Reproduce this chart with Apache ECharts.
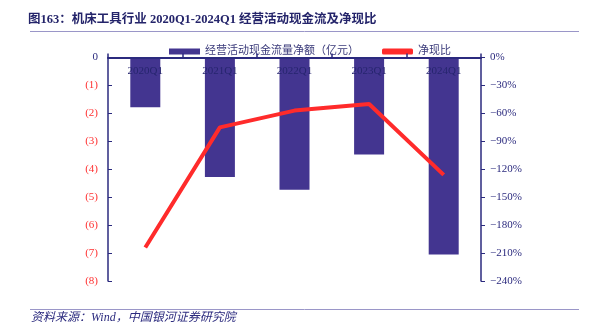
<!DOCTYPE html>
<html><head><meta charset="utf-8">
<script src="https://cdn.jsdelivr.net/npm/echarts@6/dist/echarts.min.js"></script>
<style>html,body{margin:0;padding:0;background:#fff}#c{width:595px;height:333px}</style>
</head><body><div id="c"></div>
<script>
const categories = ['2020Q1','2021Q1','2022Q1','2023Q1','2024Q1'];
const cashFlow = [-1.78, -4.28, -4.73, -3.47, -7.05];
const netCashRatio = [-204, -75, -57, -50, -126];
const leftTicks = {min: -8, max: 0, interval: 1};
const rightTicks = {min: -240, max: 0, interval: 30};

const serif = "'Liberation Serif','Noto Sans CJK SC',serif";
const navy = '#2b2a7e';
const chart = echarts.init(document.getElementById('c'));
chart.setOption({
  animation: false,
  textStyle: {fontFamily: serif},
  graphic: [
    {type: 'text', left: 28, top: 14, style: {text: '图163：机床工具行业 2020Q1-2024Q1 经营活动现金流及净现比', font: "bold 12.5px " + serif, fill: '#24246a'}},
    {type: 'line', shape: {x1: 30, y1: 31.5, x2: 579, y2: 31.5}, style: {stroke: '#9a96c8', lineWidth: 1}},
    {type: 'line', shape: {x1: 30, y1: 309.5, x2: 579, y2: 309.5}, style: {stroke: '#9a96c8', lineWidth: 1}},
    {type: 'text', left: 31, top: 312, style: {text: '资料来源：Wind，中国银河证券研究院', font: "italic 12px " + serif, fill: '#2b2a7e'}}
  ],
  legend: {
    top: 41, left: 164, itemGap: 23, itemWidth: 31, itemHeight: 6,
    textStyle: {color: '#3a3a7a', fontSize: 11, fontFamily: serif},
    data: [
      {name: '经营活动现金流量净额（亿元）', icon: 'rect'},
      {name: '净现比', icon: 'roundRect', itemStyle: {color: '#ff2b2b'}}
    ]
  },
  grid: {left: 108, right: 114, top: 57.5, bottom: 52, containLabel: false},
  xAxis: {
    type: 'category', data: categories, position: 'top', z: 10,
    axisLine: {lineStyle: {color: navy, width: 2}},
    axisTick: {show: true, inside: false, length: 4, lineStyle: {color: navy, width: 1.5}},
    axisLabel: {inside: true, margin: 8, color: '#26256e', fontSize: 11, fontFamily: serif}
  },
  yAxis: [
    {
      type: 'value', min: leftTicks.min, max: leftTicks.max, interval: leftTicks.interval,
      splitLine: {show: false},
      axisLine: {show: true, lineStyle: {color: navy, width: 1.5}},
      axisTick: {show: true, inside: true, length: 4, lineStyle: {color: navy}},
      axisLabel: {
        margin: 10, fontSize: 11, fontFamily: serif,
        formatter: v => v === 0 ? '0' : '(' + Math.abs(v) + ')',
        color: v => (Number(v) === 0 ? '#2b2a7e' : '#ff3030')
      }
    },
    {
      type: 'value', min: rightTicks.min, max: rightTicks.max, interval: rightTicks.interval,
      position: 'right',
      splitLine: {show: false},
      axisLine: {show: true, lineStyle: {color: navy, width: 1.5}},
      axisTick: {show: true, inside: false, length: 4, lineStyle: {color: navy}},
      axisLabel: {
        margin: 9, fontSize: 11, fontFamily: serif, color: '#2b2a7e',
        formatter: v => v === 0 ? '0%' : '\u2212' + Math.abs(v) + '%'
      }
    }
  ],
  series: [
    {
      name: '经营活动现金流量净额（亿元）', type: 'bar', data: cashFlow, barWidth: 30,
      itemStyle: {color: '#433590'}, z: 1
    },
    {
      name: '净现比', type: 'line', yAxisIndex: 1, data: netCashRatio,
      symbol: 'none', lineStyle: {color: '#ff2b2b', width: 4}, itemStyle: {color: '#ff2b2b'}, z: 3
    }
  ]
});
</script></body></html>
